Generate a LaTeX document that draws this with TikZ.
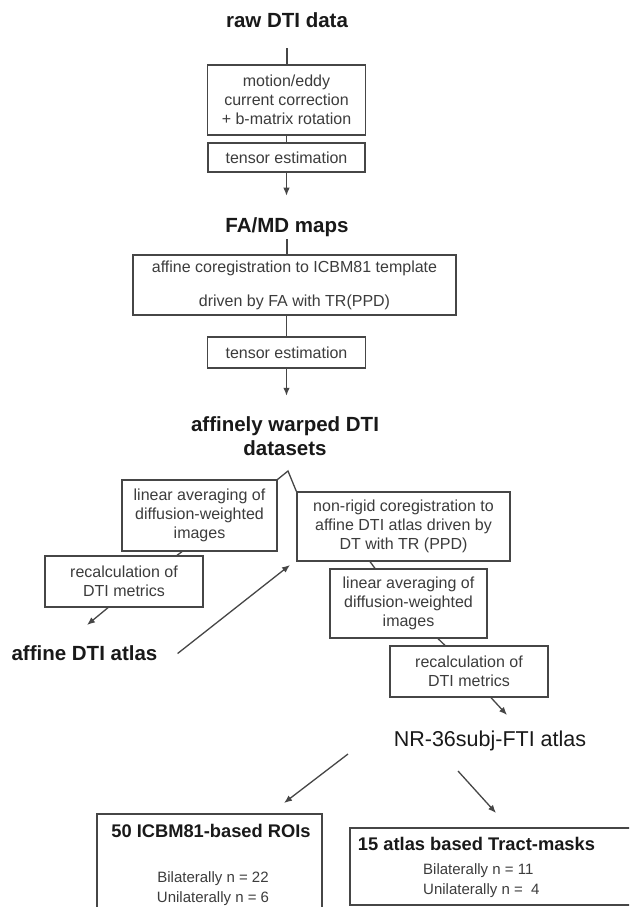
\documentclass[tikz,border=0pt]{standalone}
\usepackage{fontspec}
\setmainfont{Liberation Sans}
\usetikzlibrary{arrows.meta, calc}
\definecolor{LineGray}{RGB}{70, 70, 70}
\definecolor{TextGray}{RGB}{60, 60, 60}
\definecolor{TitleBlack}{RGB}{25, 25, 25}

\tikzset{
  stepbox/.style={draw=LineGray, line width=1.3pt, fill=white, align=center, text=TextGray,
    font=\fontsize{16}{19}\selectfont, inner sep=0pt},
  heading/.style={text=TitleBlack, font=\bfseries\fontsize{20.5}{24}\selectfont, align=center, inner sep=2pt},
  plainhead/.style={text=TitleBlack, font=\fontsize{21.5}{24}\selectfont, inner sep=2pt},
  boxhead/.style={text=TitleBlack, font=\bfseries\fontsize{18.3}{22}\selectfont, inner sep=0pt},
  countline/.style={text=TextGray, font=\fontsize{15}{19.5}\selectfont, inner sep=0pt},
  frame/.style={draw=LineGray, line width=1.3pt},
  link/.style={draw=LineGray, line width=1.3pt},
  arr/.style={link, -{Latex[length=8pt, width=6.5pt]}},
}

\begin{document}
\begin{tikzpicture}[x=1pt, y=-1pt]
    \useasboundingbox (0,0) rectangle (629,907);
    \clip (0,0) rectangle (629,907);
    \fill[white] (0,0) rectangle (629,907);

    % Affine registration part
    \node[heading] (raw) at (287,20.5) {raw DTI data};
    \node[stepbox, minimum width=158, minimum height=70] (motion) at (286.5,100)
        {motion/eddy\\current correction\\+ b-matrix rotation};
    \node[stepbox, minimum width=157, minimum height=29] (tensA) at (286.5,157.5) {tensor estimation};
    \node[heading] (famd) at (287,227.5) {FA/MD maps};
    \node[stepbox, minimum width=323, minimum height=60] (affreg) at (294.5,285)
        {affine coregistration to ICBM81 template\\[15pt]driven by FA with TR(PPD)};
    \node[stepbox, minimum width=158, minimum height=31] (tensB) at (286.5,352.5) {tensor estimation};
    \node[heading] (warp) at (285,436.5) {affinely warped DTI\\datasets};

    \draw[link, shorten <=18pt] (raw) -- (raw |- motion.north);
    \draw[link] (motion) -- (tensA);
    \draw[arr, shorten >=20pt] (tensA.south) -- (tensA.south |- famd.north);
    \draw[link] (famd) -- (famd |- affreg.north);
    \draw[link] (affreg.south -| tensB) -- (tensB);
    \draw[arr, shorten >=19pt] (tensB.south) -- (tensB.south |- warp.north);

    % Two branches
    \node[stepbox, minimum width=155, minimum height=71] (lavgL) at (199.5,515.5)
        {linear averaging of\\diffusion-weighted\\images};
    \node[stepbox, minimum width=158, minimum height=51] (recL) at (124,581.5)
        {recalculation of\\DTI metrics};
    \node[heading] (affatlas) at (84.5,653.5) {affine DTI atlas};

    \node[stepbox, minimum width=213, minimum height=69] (nonrig) at (403.5,526.5)
        {non-rigid coregistration to\\affine DTI atlas driven by\\DT with TR (PPD)};
    \node[stepbox, minimum width=157, minimum height=69] (lavgR) at (408.5,603.5)
        {linear averaging of\\diffusion-weighted\\images};
    \node[stepbox, minimum width=158, minimum height=51] (recR) at (469,671.5)
        {recalculation of\\DTI metrics};
    \node[plainhead] (nr) at (490,740.5) {NR-36subj-FTI atlas};

    \coordinate (fork) at (288,471);
    \coordinate (affIn) at (87,625);
    \coordinate (nonrigIn) at (290,565);
    \coordinate (nrIn) at (507,715);

    \draw[link] (lavgL.north east) -- (fork) -- (nonrig.north west);
    \draw[link] ([xshift=-17.5pt]lavgL.south) -- ([xshift=53pt]recL.north);
    \draw[arr] ([xshift=-16pt]recL.south) -- (affIn);
    \draw[arr] ([xshift=18pt]affatlas.east) -- (nonrigIn);
    \draw[link] ([xshift=-33.5pt]nonrig.south) -- ([xshift=-33.5pt]lavgR.north);
    \draw[link] ([xshift=29.5pt]lavgR.south) -- ([xshift=-24pt]recR.north);
    \draw[arr] ([xshift=22pt]recR.south) -- (nrIn);

    % Regions of interest
    \draw[frame] (97,814) rectangle (322,925);
    \node[boxhead] (roiT) at (211,831) {50 ICBM81-based ROIs};
    \node[countline, align=center] (roiN) at (213,888.5) {Bilaterally n = 22\\Unilaterally n = 6};

    \draw[frame] (350,828) rectangle (640,905);
    \node[boxhead] (tractT) at (476.5,844) {15 atlas based Tract-masks};
    \node[countline, align=left, anchor=west] (tractN) at (423,880.5) {Bilaterally n = 11\\Unilaterally n = ~4};

    \coordinate (nrOutL) at (348,754);
    \coordinate (roiIn) at (284,803);
    \coordinate (nrOutR) at (458,771);
    \coordinate (tractIn) at (496,813);
    \draw[arr] (nrOutL) -- (roiIn);
    \draw[arr] (nrOutR) -- (tractIn);
\end{tikzpicture}
\end{document}
